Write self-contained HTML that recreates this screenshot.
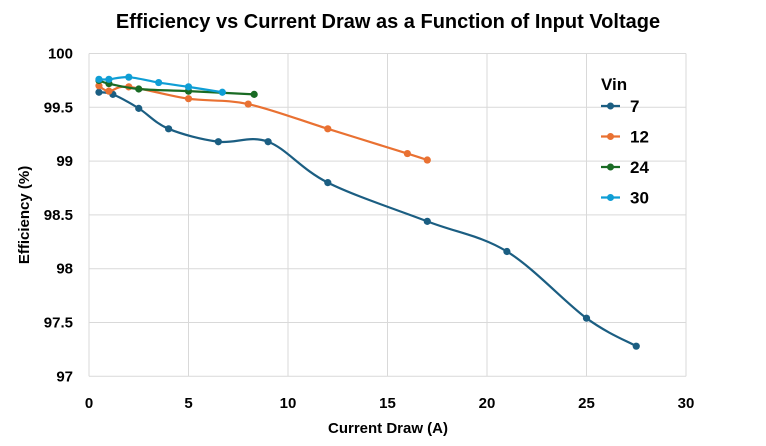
<!DOCTYPE html>
<html><head><meta charset="utf-8"><style>
body{margin:0;background:#fff;}
svg{display:block;font-family:"Liberation Sans",sans-serif;}
</style></head><body>
<svg id="s" width="766" height="446" xmlns="http://www.w3.org/2000/svg">
<rect width="766" height="446" fill="#fff"/>
<text x="388" y="28" text-anchor="middle" font-size="20" font-weight="bold" fill="#000">Efficiency vs Current Draw as a Function of Input Voltage</text>
<g id="grid" stroke="#d9d9d9" stroke-width="1"></g>
<g id="lab" font-size="15" font-weight="bold" fill="#000"></g>
<text x="388" y="433" text-anchor="middle" font-size="15" font-weight="bold">Current Draw (A)</text>
<text transform="translate(29,215) rotate(-90)" text-anchor="middle" font-size="15" font-weight="bold">Efficiency (%)</text>
<g id="ser"></g>
<g id="leg" font-size="17" font-weight="bold">
<text x="601" y="90">Vin</text>
</g>
</svg>
<script>
var X=function(v){return 89+v*19.9},Y=function(v){return 53.5+(100-v)*107.6};
var ns="http://www.w3.org/2000/svg";
function el(p,t,a,txt){var e=document.createElementNS(ns,t);for(var k in a)e.setAttribute(k,a[k]);if(txt!==undefined)e.textContent=txt;document.getElementById(p).appendChild(e);return e;}
for(var i=0;i<=6;i++){var x=X(i*5);el("grid","line",{x1:x,x2:x,y1:Y(100),y2:Y(97)});el("lab","text",{x:x,y:408,"text-anchor":"middle"},String(i*5));}
for(var j=0;j<=6;j++){var v=97+j*0.5,y=Y(v);el("grid","line",{x1:X(0),x2:X(30),y1:y,y2:y});el("lab","text",{x:73,y:y+5,"text-anchor":"end"},String(v));}
var S=[
["7","#1B5E82",[[0.5,99.64],[1.2,99.62],[2.5,99.49],[4,99.3],[6.5,99.18],[9,99.18],[12,98.8],[17,98.44],[21,98.16],[25,97.54],[27.5,97.28]]],
["12","#E97132",[[0.5,99.7],[1,99.65],[2,99.69],[5,99.58],[8,99.53],[12,99.3],[16,99.07],[17,99.01]]],
["24","#196B24",[[0.5,99.75],[1,99.72],[2.5,99.67],[5,99.65],[8.3,99.62]]],
["30","#0F9ED5",[[0.5,99.76],[1,99.76],[2,99.78],[3.5,99.73],[5,99.69],[6.7,99.64]]]];
S.forEach(function(s,k){
 var p=s[2].map(function(d){return [X(d[0]),Y(d[1])]});
 var d="M"+p[0][0]+","+p[0][1];
 for(var i=0;i<p.length-1;i++){var p0=p[i-1]||p[i],p1=p[i],p2=p[i+1],p3=p[i+2]||p2;var t=6;
  d+=" C"+(p1[0]+(p2[0]-p0[0])/t)+","+(p1[1]+(p2[1]-p0[1])/t)+" "+(p2[0]-(p3[0]-p1[0])/t)+","+(p2[1]-(p3[1]-p1[1])/t)+" "+p2[0]+","+p2[1];}
 el("ser","path",{d:d,fill:"none",stroke:s[1],"stroke-width":2.2});
 p.forEach(function(q){el("ser","circle",{cx:q[0],cy:q[1],r:3.6,fill:s[1]});});
 var ly=106+k*30.5;
 el("leg","line",{x1:601,x2:620,y1:ly,y2:ly,stroke:s[1],"stroke-width":2.2});
 el("leg","circle",{cx:610.5,cy:ly,r:3.5,fill:s[1]});
 el("leg","text",{x:630,y:ly+6},s[0]);
});
</script>
</body></html>
